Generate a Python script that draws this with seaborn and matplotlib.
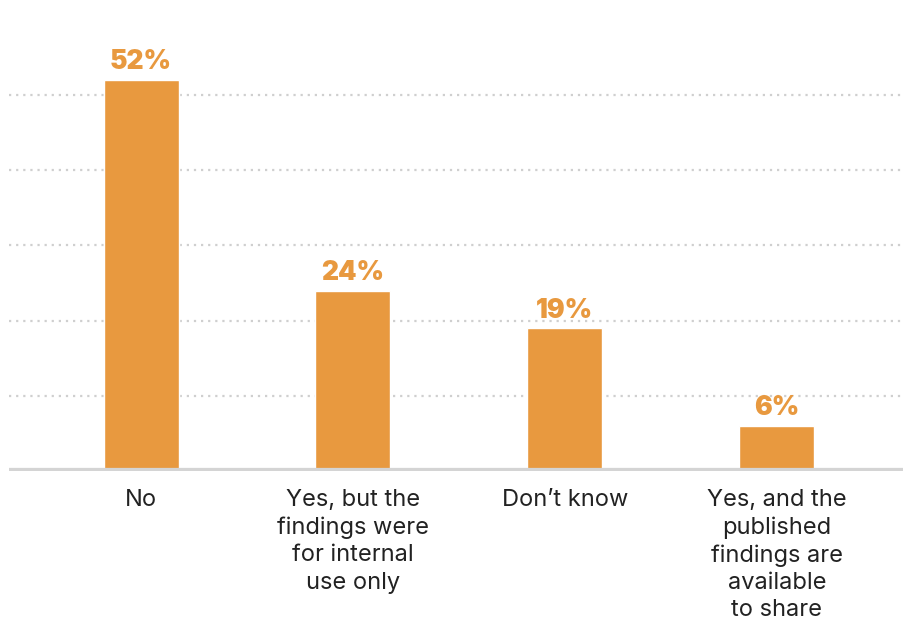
import matplotlib
matplotlib.use("Agg")
import matplotlib.pyplot as plt
import seaborn as sns
import pandas as pd

categories = ["No", "Yes, but the\nfindings were\nfor internal\nuse only", "Don\u2019t know",
              "Yes, and the\npublished\nfindings are\navailable\nto share"]
values = [52, 24, 19, 6]
value_labels = ["52%", "24%", "19%", "6%"]

sns.set_theme(style="white")
plt.rcParams['font.family'] = ['Inter', 'DejaVu Sans']

df = pd.DataFrame({"cat": categories, "val": values})
fig = plt.figure(figsize=(9.04, 6.22), dpi=100)
ax = fig.add_axes([9/904, 151/622, 895/904, 470/622])

orange = "#E8993F"
sns.barplot(data=df, x="cat", y="val", color=orange, width=0.354, ax=ax, saturation=1)

ax.set_xlim(-0.623, 3.6)
ax.set_ylim(0, 62.5)
for y in [10, 20, 30, 40, 50]:
    ax.axhline(y, color="#cfcfcf", lw=1.6, ls=(0, (1, 2.2)), zorder=0)
ax.axhline(0, color="#d4d4d4", lw=4.5, zorder=3)
for s in ax.spines.values():
    s.set_visible(False)
ax.set_yticks([])
ax.set_xlabel("")
ax.set_ylabel("")
ax.tick_params(axis="x", length=0, pad=13)
ax.set_xticks(range(len(categories)))
ax.set_xticklabels(categories, fontsize=17, color="#222222", linespacing=1.31, va="top")

for i, (v, lab) in enumerate(zip(values, value_labels)):
    ax.text(i, v + 0.6, lab, ha="center", va="bottom", fontsize=19, fontweight="black", color=orange)

fig.savefig("out.png", dpi=100)
